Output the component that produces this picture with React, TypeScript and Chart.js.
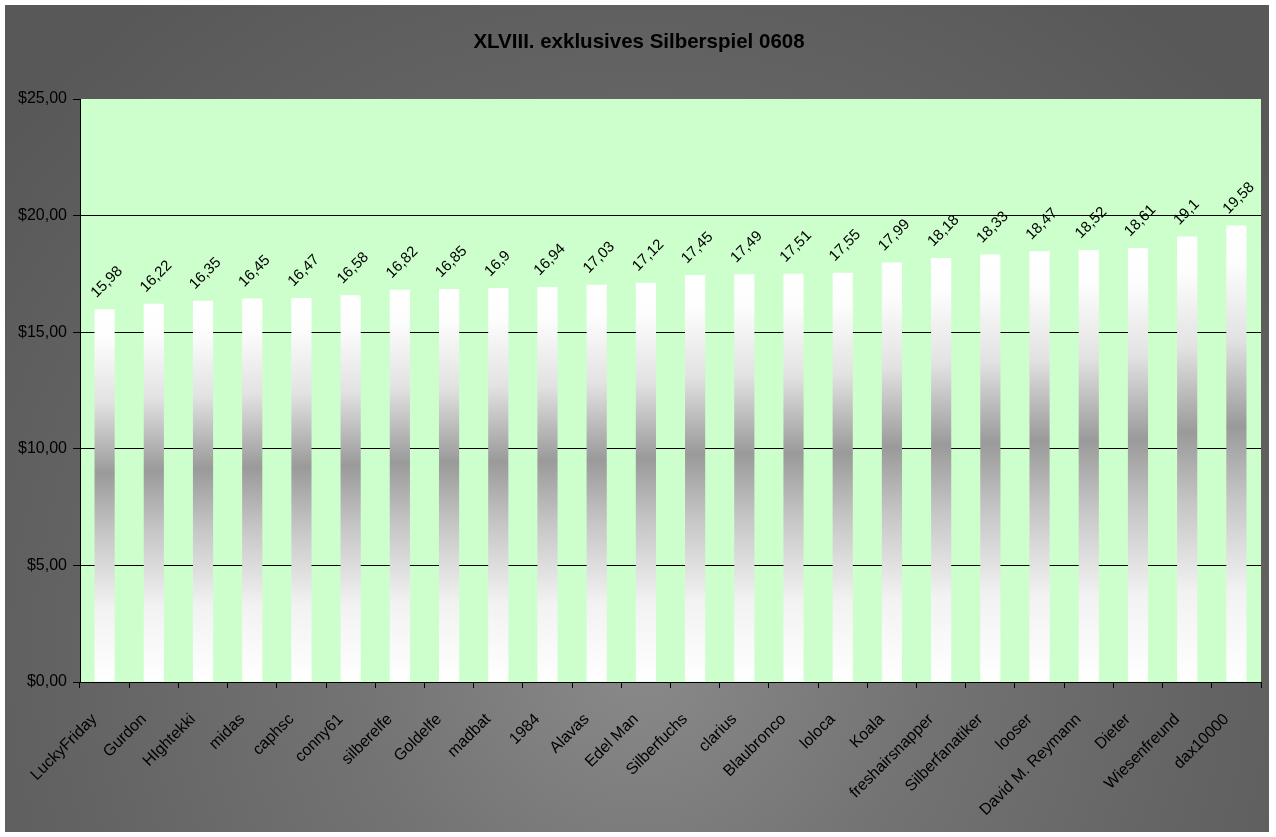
import { useEffect, useRef } from "react";
import { Chart, registerables } from "chart.js";

Chart.register(...registerables);

const TITLE = "XLVIII. exklusives Silberspiel 0608";

const players = [
  "LuckyFriday",
  "Gurdon",
  "HIghtekki",
  "midas",
  "caphsc",
  "conny61",
  "silberelfe",
  "Goldelfe",
  "madbat",
  "1984",
  "Alavas",
  "Edel Man",
  "Silberfuchs",
  "clarius",
  "Blaubronco",
  "loloca",
  "Koala",
  "freshairsnapper",
  "Silberfanatiker",
  "looser",
  "David M. Reymann",
  "Dieter",
  "Wiesenfreund",
  "dax10000",
];

const values = [
  15.98, 16.22, 16.35, 16.45, 16.47, 16.58, 16.82, 16.85, 16.9, 16.94, 17.03, 17.12,
  17.45, 17.49, 17.51, 17.55, 17.99, 18.18, 18.33, 18.47, 18.52, 18.61, 19.1, 19.58,
];

const Y_MIN = 0;
const Y_MAX = 25;
const Y_STEP = 5;

const FONT = "Arial, 'Liberation Sans', sans-serif";

const fmtValue = (v: number) => String(v).replace(".", ",");
const fmtMoney = (v: number) => "$" + v.toFixed(2).replace(".", ",");

const backgroundPlugin = {
  id: "bgPlugin",
  beforeDraw(chart: any) {
    const { ctx, width, height, chartArea } = chart;
    ctx.save();
    const g = ctx.createRadialGradient(635, 650, 0, 635, 650, 820);
    g.addColorStop(0, "#8a8a8a");
    g.addColorStop(0.35, "#737373");
    g.addColorStop(0.7, "#636363");
    g.addColorStop(1, "#585858");
    ctx.fillStyle = g;
    ctx.fillRect(0, 0, width, height);
    if (chartArea) {
      ctx.fillStyle = "#ccffcc";
      ctx.fillRect(
        chartArea.left,
        chartArea.top,
        chartArea.right - chartArea.left,
        chartArea.bottom - chartArea.top
      );
    }
    ctx.restore();
  },
  afterDraw(chart: any) {
    const { ctx } = chart;
    ctx.save();
    ctx.fillStyle = "#000";
    ctx.font = `bold 20.5px ${FONT}`;
    ctx.textAlign = "center";
    ctx.textBaseline = "middle";
    ctx.fillText(TITLE, 634, 37);
    ctx.restore();
  },
};

const valueLabelPlugin = {
  id: "valueLabels",
  afterDatasetsDraw(chart: any) {
    const { ctx } = chart;
    const meta = chart.getDatasetMeta(0);
    ctx.save();
    ctx.fillStyle = "#000";
    ctx.font = `15px ${FONT}`;
    ctx.textAlign = "left";
    ctx.textBaseline = "alphabetic";
    meta.data.forEach((bar: any, i: number) => {
      ctx.save();
      ctx.translate(bar.x - 8, bar.y - 11);
      ctx.rotate(-Math.PI / 4);
      ctx.fillText(fmtValue(values[i]), 0, 0);
      ctx.restore();
    });
    ctx.restore();
  },
};

function barGradient(c: any) {
  const chart = c.chart;
  const y = chart.scales && chart.scales.y;
  if (!chart.chartArea || !y || typeof c.raw !== "number") return "#ffffff";
  const top = y.getPixelForValue(c.raw);
  const bottom = y.getPixelForValue(0);
  if (!isFinite(top) || !isFinite(bottom) || bottom - top < 1) return "#ffffff";
  const g = chart.ctx.createLinearGradient(0, top, 0, bottom);
  g.addColorStop(0, "#ffffff");
  g.addColorStop(0.08, "#fdfdfd");
  g.addColorStop(0.25, "#e2e2e2");
  g.addColorStop(0.44, "#9a9a9a");
  g.addColorStop(0.6, "#c6c6c6");
  g.addColorStop(0.8, "#f2f2f2");
  g.addColorStop(1, "#ffffff");
  return g;
}

export default function App() {
  const ref = useRef<HTMLCanvasElement>(null);

  useEffect(() => {
    const canvas = ref.current;
    if (!canvas) return;
    const chart = new Chart(canvas, {
      type: "bar",
      data: {
        labels: players,
        datasets: [
          {
            data: values,
            backgroundColor: barGradient,
            borderWidth: 0,
            categoryPercentage: 1,
            barPercentage: 0.41,
          },
        ],
      },
      options: {
        responsive: false,
        animation: false,
        devicePixelRatio: 1,
        layout: { padding: { top: 94, right: 8, left: 0, bottom: 0 } },
        plugins: {
          legend: { display: false },
          title: { display: false },
          tooltip: { enabled: false },
        },
        scales: {
          x: {
            offset: true,
            grid: {
              display: true,
              drawOnChartArea: false,
              drawTicks: true,
              tickLength: 6,
              tickColor: "#000",
              offset: true,
            },
            border: { display: true, color: "#000", width: 1 },
            ticks: {
              color: "#000",
              font: { family: FONT, size: 16 },
              autoSkip: false,
              maxRotation: 45,
              minRotation: 45,
              padding: 22,
              labelOffset: -10,
            },
            afterFit(scale: any) {
              scale.height = 150;
              scale.paddingLeft = 0;
              scale.paddingRight = 0;
              scale.paddingTop = 0;
              scale.paddingBottom = 0;
            },
          },
          y: {
            min: Y_MIN,
            max: Y_MAX,
            ticks: {
              stepSize: Y_STEP,
              color: "#000",
              font: { family: FONT, size: 16 },
              padding: 6,
              callback: (v: any) => fmtMoney(Number(v)),
            },
            grid: {
              color: (c: any) =>
                c.tick && (c.tick.value === Y_MAX || c.tick.value === Y_MIN)
                  ? "rgba(0,0,0,0)"
                  : "#000",
              tickColor: "#000",
              tickLength: 7,
              lineWidth: 1,
            },
            border: { display: true, color: "#000", width: 1 },
            afterFit(scale: any) {
              scale.width = 75;
              scale.paddingTop = 0;
              scale.paddingBottom = 0;
            },
          },
        },
      },
      plugins: [backgroundPlugin, valueLabelPlugin],
    });
    return () => chart.destroy();
  }, []);

  return (
    <div
      style={{
        position: "fixed",
        left: 0,
        top: 0,
        width: 1276,
        height: 837,
        background: "#ffffff",
      }}
    >
      <div style={{ position: "absolute", left: 5, top: 5, width: 1264, height: 827 }}>
        <canvas ref={ref} width={1264} height={827} style={{ display: "block" }} />
      </div>
    </div>
  );
}
